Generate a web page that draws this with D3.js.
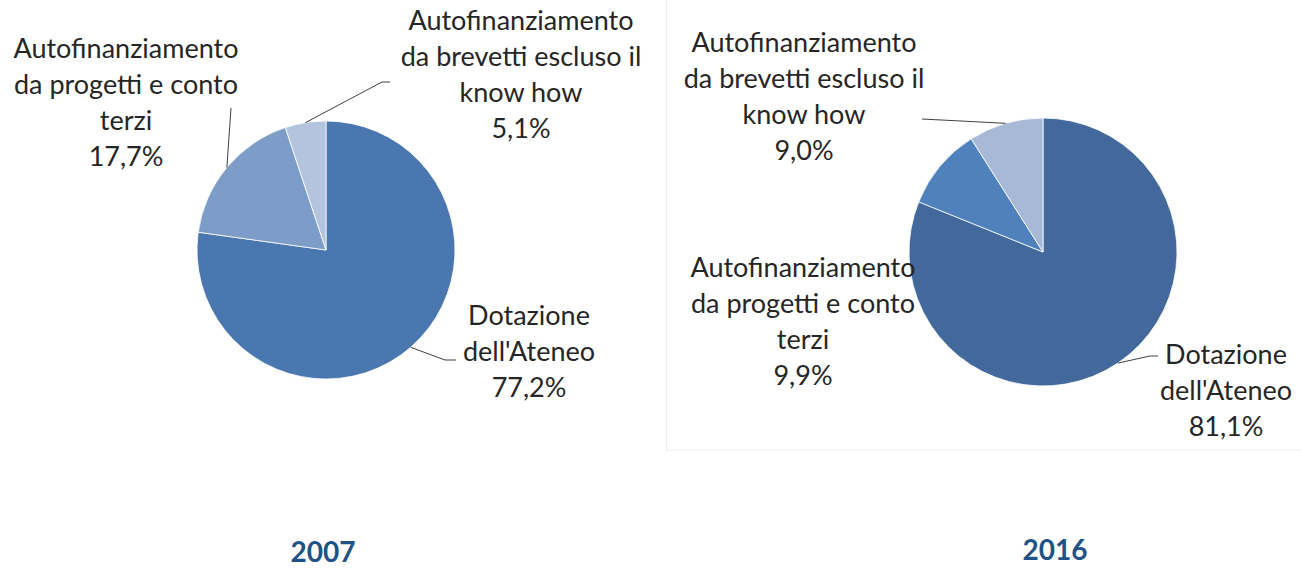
<!DOCTYPE html>
<html>
<head>
<meta charset="utf-8">
<script src="https://cdn.jsdelivr.net/npm/d3@7"></script>
<style>
  body { margin: 0; background: #fff; }
  svg { display: block; }
</style>
</head>
<body>
<svg id="chart" width="1301" height="570"></svg>
<script>
// Data
const categories = ["Dotazione dell'Ateneo", "Autofinanziamento da progetti e conto terzi", "Autofinanziamento da brevetti escluso il know how"];
const labelLines = [
    ["Dotazione", "dell'Ateneo"],
    ["Autofinanziamento", "da progetti e conto", "terzi"],
    ["Autofinanziamento", "da brevetti escluso il", "know how"]
];
const years = ["2007", "2016"];
const values2007 = [77.2, 17.7, 5.1];
const values2016 = [81.1, 9.9, 9.0];

const svg = d3.select('#chart');
const fontFamily = 'Lato, "Open Sans", sans-serif';
const fontSize = 27;
const lineHeight = 36;

const itFormat = d3.formatLocale({ decimal: ',', thousands: '.', grouping: [3], currency: ['', '€'] }).format('.1f');

// layout for each pie
const panels = [
    {
        year: years[0], values: values2007,
        cx: 326, cy: 250, r: 129,
        colors: ['#4a77b0', '#7e9cc8', '#b4c4df'],
        labels: [
            { x: 529, y: 325, line: [[445, 360], [456, 360]] },
            { x: 126, y: 58, line: [[231, 108]] },
            { x: 521, y: 30, line: [[382, 82], [390, 82]] }
        ],
        title: { x: 323, y: 562 }
    },
    {
        year: years[1], values: values2016,
        cx: 1043, cy: 252, r: 134,
        colors: ['#43699c', '#4f81bd', '#a8b9d8'],
        labels: [
            { x: 1226, y: 364, line: [[1150, 356], [1158, 356]] },
            { x: 803, y: 277, line: null },
            { x: 804, y: 52, line: [[922, 119]] }
        ],
        title: { x: 1055, y: 560 }
    }
];

// faint frame around the right panel
svg.append('rect')
    .attr('x', 666.5)
    .attr('y', -2)
    .attr('width', 640)
    .attr('height', 452)
    .attr('fill', 'none')
    .attr('stroke', '#ededed')
    .attr('stroke-width', 1);

const pie = d3.pie().sort(null).value(d => d);

panels.forEach(p => {
    const g = svg.append('g')
        .attr('transform', `translate(${p.cx},${p.cy})`);

    const arcs = pie(p.values);
    const arc = d3.arc().innerRadius(0).outerRadius(p.r);
    const edge = d3.arc().innerRadius(p.r).outerRadius(p.r);

    g.selectAll('path.slice')
        .data(arcs)
        .enter()
        .append('path')
        .attr('class', 'slice')
        .attr('d', arc)
        .attr('fill', (d, i) => p.colors[i])
        .attr('stroke', '#fff')
        .attr('stroke-width', 0.8);

    // leader lines
    arcs.forEach((d, i) => {
        const lab = p.labels[i];
        if (!lab.line) return;
        const start = edge.centroid(d);
        const pts = [[start[0] + p.cx, start[1] + p.cy]].concat(lab.line);
        svg.append('path')
            .attr('d', d3.line()(pts))
            .attr('fill', 'none')
            .attr('stroke', '#404040')
            .attr('stroke-width', 1);
    });

    // labels
    arcs.forEach((d, i) => {
        const lab = p.labels[i];
        const lines = labelLines[i].concat([itFormat(d.data) + '%']);
        const t = svg.append('text')
            .attr('text-anchor', 'middle')
            .attr('font-family', fontFamily)
            .attr('font-size', fontSize)
            .attr('fill', '#262626');
        lines.forEach((s, k) => {
            t.append('tspan')
                .attr('x', lab.x)
                .attr('y', lab.y + k * lineHeight)
                .text(s);
        });
    });

    // year title
    svg.append('text')
        .attr('x', p.title.x)
        .attr('y', p.title.y)
        .attr('text-anchor', 'middle')
        .attr('font-family', fontFamily)
        .attr('font-size', 28)
        .attr('font-weight', 'bold')
        .attr('fill', '#1f5286')
        .text(p.year);
});
</script>
</body>
</html>
